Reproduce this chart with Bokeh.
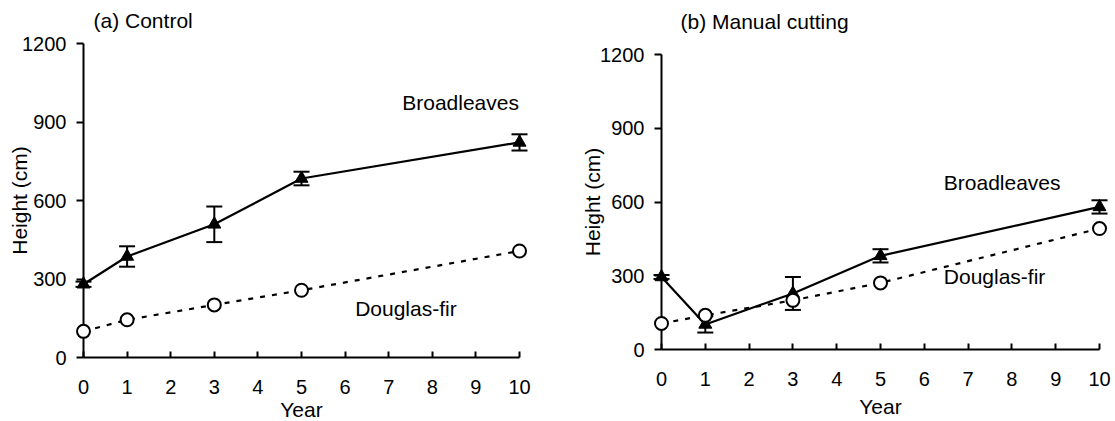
import math
from bokeh.plotting import figure
from bokeh.layouts import row
from bokeh.models import FixedTicker, Range1d
from bokeh.core.properties import value
from bokeh.embed import file_html
from bokeh.resources import INLINE

# ---------------- data ----------------
years = [0, 1, 3, 5, 10]
x_ticks = list(range(11))
y_ticks = [0, 300, 600, 900, 1200]

ctrl_broad = [280, 386, 509, 684, 822]
ctrl_broad_err = [10, 39, 68, 26, 31]
ctrl_doug = [100, 144, 201, 257, 407]

cut_broad = [295, 102, 228, 381, 580]
cut_broad_err = [8, 33, 67, 27, 27]
cut_doug = [106, 139, 200, 271, 492]

panel_titles = ["(a) Control", "(b) Manual cutting"]
series_names = ["Broadleaves", "Douglas-fir"]
x_label = "Year"
y_label = "Height (cm)"

FONT = "Liberation Sans"


def add_text(p, x, y, text, angle=0.0, align="left"):
    r = p.text(x=[x], y=[y], text=[text], angle=angle, text_font=value(FONT),
               text_font_size=value("21px"), text_color="black",
               text_align=align, text_baseline="middle")
    r.level = "overlay"
    return r


def make_panel(title, broad, err, doug, width, borders, title_pos,
               ylab_x, xlab_y, broad_pos, doug_pos):
    bl, br, bt, bb = borders
    p = figure(width=width, height=421, x_range=Range1d(0, 10), y_range=Range1d(0, 1200),
               output_backend="svg", toolbar_location=None, frame_align=False,
               min_border_left=bl, min_border_right=br, min_border_top=bt, min_border_bottom=bb)
    p.outline_line_color = None
    p.xgrid.visible = False
    p.ygrid.visible = False
    p.background_fill_color = "white"
    p.border_fill_color = "white"

    for ax in (p.xaxis[0], p.yaxis[0]):
        ax.axis_line_width = 2
        ax.axis_line_color = "black"
        ax.major_tick_line_width = 2
        ax.major_tick_line_color = "black"
        ax.minor_tick_in = 0
        ax.minor_tick_out = 0
        ax.major_label_text_font = FONT
        ax.major_label_text_font_size = "20px"
        ax.major_label_text_font_style = "normal"
        ax.major_label_text_color = "black"

    xa = p.xaxis[0]
    xa.ticker = FixedTicker(ticks=x_ticks)
    xa.major_tick_in = 6
    xa.major_tick_out = 0
    xa.major_label_standoff = 22

    ya = p.yaxis[0]
    ya.ticker = FixedTicker(ticks=y_ticks)
    ya.major_tick_in = 0
    ya.major_tick_out = 7
    ya.major_label_standoff = 10

    lower = [v - e for v, e in zip(broad, err)]
    upper = [v + e for v, e in zip(broad, err)]

    rs = []
    rs.append(p.line(years, broad, line_color="black", line_width=2.2))
    rs.append(p.line(years, doug, line_color="black", line_width=2.2, line_dash="5 7"))
    rs.append(p.segment(x0=years, y0=lower, x1=years, y1=upper, line_color="black", line_width=2))
    rs.append(p.scatter(years, lower, marker="dash", size=16, line_color="black", line_width=2))
    rs.append(p.scatter(years, upper, marker="dash", size=16, line_color="black", line_width=2))
    rs.append(p.scatter(years, broad, marker="triangle", size=13, fill_color="black",
                        line_color="black", line_width=1))
    rs.append(p.scatter(years, doug, marker="circle", size=13, fill_color="white",
                        line_color="black", line_width=2))
    for r in rs:
        r.level = "overlay"

    # panel title, axis titles and series labels
    add_text(p, title_pos[0], title_pos[1], title)
    add_text(p, 5, xlab_y, x_label, align="center")
    add_text(p, ylab_x, 600, y_label, angle=math.pi / 2, align="center")
    for name, (lx, ly) in zip(series_names, (broad_pos, doug_pos)):
        add_text(p, lx, ly, name)
    return p


p1 = make_panel(panel_titles[0], ctrl_broad, ctrl_broad_err, ctrl_doug, 560,
                (83, 41, 43, 64), (0.23, 1286), -1.475, -199, (7.31, 973), (6.23, 189))
p2 = make_panel(panel_titles[1], cut_broad, cut_broad_err, cut_doug, 555,
                (101, 16, 54, 72), (0.434, 1336), -1.571, -230, (6.445, 679), (6.445, 297))

layout = row(p1, p2)
open("out.html", "w").write(file_html(layout, INLINE))
